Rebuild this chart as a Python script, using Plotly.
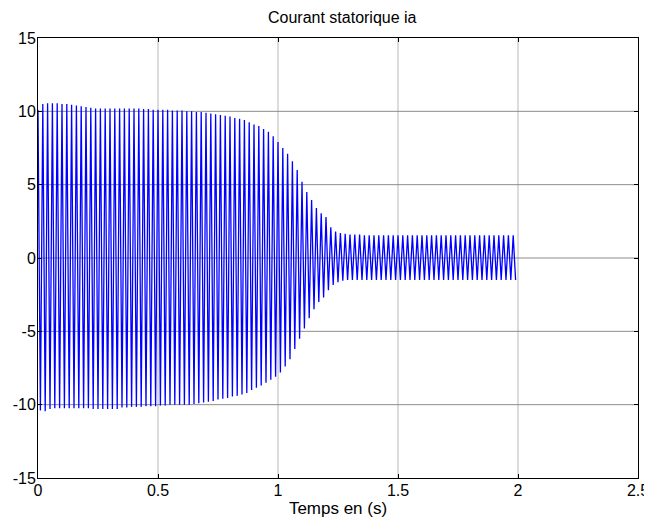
import numpy as np
import plotly.graph_objects as go

# Stator current ia: positive peak amplitudes (every full period, 50 Hz, starting t=0)
pos_peaks = [
    10.1, 10.5, 10.55, 10.55, 10.55, 10.5, 10.5, 10.45, 10.4, 10.35,
    10.3, 10.25, 10.2, 10.2, 10.2, 10.2, 10.2, 10.2, 10.2, 10.2,
    10.2, 10.2, 10.15, 10.15, 10.1, 10.1, 10.1, 10.1, 10.05, 10.05,
    10.05, 10.0, 10.0, 9.95, 9.95, 9.9, 9.85, 9.8, 9.75, 9.7,
    9.65, 9.55, 9.5, 9.4, 9.25, 9.1, 9.0, 8.8, 8.6, 8.3,
    7.9, 7.5, 7.1, 6.6, 6.0, 5.2, 4.5, 3.95, 3.4, 3.05,
    2.8, 2.1, 1.8, 1.7, 1.65, 1.6, 1.6, 1.6, 1.55, 1.55,
    1.55, 1.55, 1.55, 1.55, 1.55, 1.55, 1.55, 1.55, 1.55, 1.55,
    1.55, 1.55, 1.55, 1.55, 1.55, 1.55, 1.55, 1.55, 1.55, 1.55,
    1.55, 1.55, 1.55, 1.55, 1.55, 1.55, 1.55, 1.55, 1.55, 1.55,
]
# negative peak amplitudes (half a period later)
neg_peaks = [
    -10.4, -10.45, -10.3, -10.25, -10.25, -10.25, -10.25, -10.25, -10.25, -10.25,
    -10.25, -10.3, -10.3, -10.3, -10.3, -10.3, -10.3, -10.2, -10.2, -10.15,
    -10.15, -10.15, -10.1, -10.1, -10.1, -10.05, -10.05, -10.0, -10.0, -10.0,
    -10.0, -10.0, -9.95, -9.9, -9.85, -9.8, -9.75, -9.65, -9.6, -9.55,
    -9.45, -9.4, -9.3, -9.2, -9.0, -8.85, -8.7, -8.5, -8.3, -8.1,
    -7.8, -7.4, -6.9, -6.2, -5.5, -4.8, -4.1, -3.5, -3.0, -2.7,
    -2.2, -1.84, -1.65, -1.55, -1.5, -1.5, -1.5, -1.5, -1.5, -1.5,
    -1.5, -1.5, -1.5, -1.5, -1.5, -1.5, -1.5, -1.5, -1.5, -1.5,
    -1.5, -1.5, -1.5, -1.5, -1.5, -1.5, -1.5, -1.5, -1.5, -1.5,
    -1.5, -1.5, -1.5, -1.5, -1.5, -1.5, -1.5, -1.5, -1.5, -1.5,
]
period = 0.02  # s (50 Hz)

x_ticks = [0, 0.5, 1, 1.5, 2, 2.5]
x_labels = ["0", "0.5", "1", "1.5", "2", "2.5"]
y_ticks = [-15, -10, -5, 0, 5, 10, 15]
y_labels = ["-15", "-10", "-5", "0", "5", "10", "15"]

n = len(pos_peaks)
t_pos = np.arange(n) * period
t_neg = t_pos + period / 2
t = np.empty(2 * n)
y = np.empty(2 * n)
t[0::2] = t_pos
t[1::2] = t_neg
y[0::2] = pos_peaks
y[1::2] = neg_peaks

fig = go.Figure()
fig.add_trace(go.Scatter(x=t, y=y, mode="lines",
                         line=dict(color="#0000ff", width=1.3),
                         showlegend=False, hoverinfo="skip"))

FAM = "Liberation Sans, Arial, sans-serif"
font = dict(family=FAM, size=16, color="black")

# horizontal grid lines darker, vertical lighter (as in the reference)
for v in x_ticks[1:-1]:
    fig.add_shape(type="line", xref="x", yref="paper", x0=v, x1=v, y0=0, y1=1,
                  line=dict(color="#b8b8b8", width=1), layer="below")
for v in y_ticks[1:-1]:
    fig.add_shape(type="line", xref="paper", yref="y", x0=0, x1=1, y0=v, y1=v,
                  line=dict(color="#8c8c8c", width=1), layer="below")

# page body has an 8px default margin, so the figure is sized to fit the window
fig.update_layout(
    width=644, height=515,
    margin=dict(l=30, r=14, t=30, b=45, autoexpand=False),
    paper_bgcolor="white", plot_bgcolor="white",
    font=font,
    title=dict(text="Courant statorique ia", x=0.519, xanchor="center",
               y=1 - 9 / 515, yanchor="middle",
               font=dict(family=FAM, size=16, color="black")),
    xaxis=dict(range=[0, 2.5], tickvals=x_ticks, ticktext=x_labels,
               showgrid=False, zeroline=False, showline=True, linecolor="black",
               linewidth=1, mirror="ticks", ticks="inside", ticklen=4,
               tickcolor="black", automargin=False, ticklabelstandoff=-2,
               title=dict(text="Temps en (s)", standoff=1,
                          font=dict(family=FAM, size=17, color="black")),
               tickfont=font),
    yaxis=dict(range=[-15, 15], tickvals=y_ticks, ticktext=y_labels,
               showgrid=False, zeroline=False, showline=True, linecolor="black",
               linewidth=1, mirror="ticks", ticks="inside", ticklen=4,
               tickcolor="black", automargin=False, ticklabelstandoff=-2,
               tickfont=font),
)

fig.write_html("out.html")
